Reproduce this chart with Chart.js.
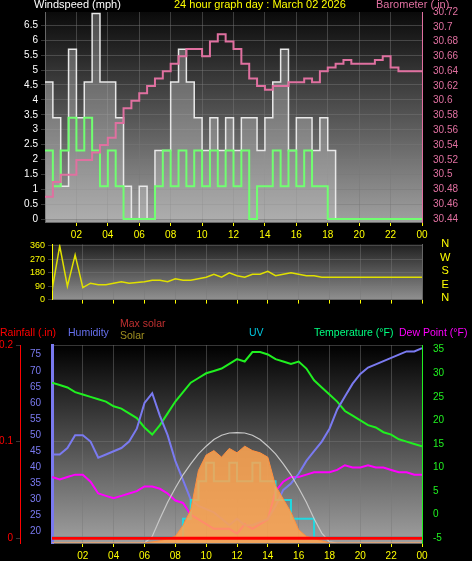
<!DOCTYPE html>
<html><head><meta charset="utf-8">
<script src="https://cdn.jsdelivr.net/npm/chart.js@4/dist/chart.umd.min.js"></script>
<style>
body{margin:0;background:#000;width:472px;height:561px;overflow:hidden;position:relative;font-family:"Liberation Sans",Arial,sans-serif}
.w{position:absolute;left:0;width:472px}
.t{position:absolute;font-size:11px;white-space:nowrap}
</style></head><body>
<div class="w" style="top:0;height:240px"><canvas id="c1" width="472" height="240"></canvas></div>
<div class="w" style="top:236px;height:72px"><canvas id="c2" width="472" height="72"></canvas></div>
<div class="w" style="top:333px;height:228px"><canvas id="c3" width="472" height="228"></canvas></div>
<div class="t" style="left:34px;top:-2px;color:#fff">Windspeed (mph)</div>
<div class="t" style="left:174px;top:-2px;color:#ff0">24 hour graph day : March 02 2026</div>
<div class="t" style="left:376px;top:-2px;color:#e070a0">Barometer (.in)</div>
<div class="t" style="left:440px;top:237px;color:#ff0;line-height:13.5px;text-align:center">N<br>W<br>S<br>E<br>N</div>
<div class="t" style="left:0px;top:326px;color:#f00;font-size:10.5px">Rainfall (.in)</div>
<div class="t" style="left:68px;top:326px;color:#6670ee;font-size:10.5px">Humidity</div>
<div class="t" style="left:120px;top:317px;color:#c03030;font-size:10.5px">Max solar</div>
<div class="t" style="left:120px;top:329px;color:#a09020;font-size:10.5px">Solar</div>
<div class="t" style="left:249px;top:326px;color:#00c8e0;font-size:10.5px">UV</div>
<div class="t" style="left:314px;top:326px;color:#00ff80;font-size:10.5px">Temperature (°F)</div>
<div class="t" style="left:399px;top:326px;color:#ff00ff;font-size:10.5px">Dew Point (°F)</div>
<script>
const hours=[0,0.5,1,1.5,2,2.5,3,3.5,4,4.5,5,5.5,6,6.5,7,7.5,8,8.5,9,9.5,10,10.5,11,11.5,12,12.5,13,13.5,14,14.5,15,15.5,16,16.5,17,17.5,18,18.5,19,19.5,20,20.5,21,21.5,22,22.5,23,23.5,24];
const hourTicks=['02','04','06','08','10','12','14','16','18','20','22','00'];
const windTicks=[0,0.5,1,1.5,2,2.5,3,3.5,4,4.5,5,5.5,6,6.5];
const windGust=[4.6,3.4,1.1,5.7,3.4,4.6,6.9,4.6,4.6,3.4,1.1,0,1.1,0,2.3,2.3,4.6,5.7,4.6,3.4,2.3,3.4,2.3,3.4,2.3,3.4,3.4,2.3,3.4,4.6,5.7,2.3,3.4,3.4,2.3,3.4,2.3,0,0,0,0,0,0,0,0,0,0,0,0];
const windAvg=[2.3,1.1,2.3,3.4,2.3,3.4,2.3,1.1,2.3,1.1,0,0,0,0,1.1,2.3,1.1,2.3,1.1,2.3,1.1,2.3,1.1,2.3,1.1,2.3,0,1.1,1.1,2.3,1.1,2.3,1.1,2.3,1.1,1.1,0,0,0,0,0,0,0,0,0,0,0,0,0];
const barometer=[30.47,30.49,30.5,30.5,30.52,30.52,30.53,30.54,30.55,30.57,30.59,30.6,30.61,30.62,30.63,30.64,30.65,30.66,30.67,30.67,30.66,30.68,30.69,30.68,30.67,30.65,30.63,30.62,30.615,30.62,30.62,30.625,30.625,30.63,30.625,30.64,30.645,30.65,30.655,30.65,30.65,30.65,30.655,30.66,30.645,30.64,30.64,30.64,30.64];
const windDir=[60,360,90,300,80,110,100,100,110,120,110,115,120,130,130,120,140,130,130,140,150,170,150,180,160,150,170,170,190,160,170,180,170,160,160,150,150,150,150,150,150,150,150,150,150,150,150,150,150];
const temperature=[28,27.5,27,26,25.5,25,24.5,24,23,22.5,21.5,20.5,18.5,17,19,21.5,24,26,28,29,30,30.5,31,32,33,32.5,34.5,34.5,34,33,32.5,32,32.5,31,28.5,27,25.5,24,22,21,20,19,18.5,17.5,17,16,15.5,15,14.5];
const humidity=[44,44,46,50,50,48,43,44,45,46,48,52,60,63,56,50,42,36,30,28,27,26,24,22,24,22,22,23,24,28,33,35,38,42,45,48,52,58,62,66,69,71,72,73,74,75,76,76,77];
const dewPoint=[8,7.5,8,8.5,8.5,7,4.5,4,3.5,4,4.5,5,6,6,5.5,4.5,3,2.5,0,-1,-2,-3,-3,-3,-4,-2,-3,-2,-1,5,7,8,8,8.5,9,9,9,9.5,10.5,10,10,10.5,10,10,9.5,9,9,8.5,8.5];
const maxSolar=[0,0,0,0,0,0,0,0,0,0,0,0,0,30,110,185,250,310,360,405,440,470,490,500,502,500,490,470,440,405,360,310,250,185,110,45,5,0,0,0,0,0,0,0,0,0,0,0,0];
const solar=[0,0,0,0,0,0,0,0,0,0,0,0,0,5,10,20,30,80,150,330,400,420,390,430,410,440,420,410,390,260,200,140,60,30,20,10,0,0,0,0,0,0,0,0,0,0,0,0,0];
const uv=[0,0,0,0,0,0,0,0,0,0,0,0,0,0,0,0,0,1,2,3,4,3,3,4,3,3,4,3,3,2,2,1,1,1,0,0,0,0,0,0,0,0,0,0,0,0,0,0,0];
const rainfall=hours.map(()=>0);
const humTicks=[20,25,30,35,40,45,50,55,60,65,70,75];

const pts=a=>hours.map((h,i)=>({x:h,y:a[i]}));
const bg={id:'bg',beforeDatasetsDraw(c,a,o){const {ctx,chartArea:ca}=c;const g=ctx.createLinearGradient(0,ca.top,0,ca.bottom);g.addColorStop(0,o.top);g.addColorStop(1,o.bot);ctx.save();ctx.fillStyle=g;ctx.globalCompositeOperation='destination-over';ctx.fillRect(ca.left,ca.top,ca.width,ca.height);ctx.restore();}};
Chart.register(bg);
const F={family:'"Liberation Sans",Arial',size:10};
const grid={color:'rgba(120,120,120,0.45)',tickLength:4,drawTicks:true};
const xAxis=(show)=>({type:'linear',min:0,max:24,afterBuildTicks:s=>{s.ticks=[];for(let h=2;h<=24;h+=2)s.ticks.push({value:h});},
 ticks:{display:show,color:'#ff0',font:F,callback:v=>hourTicks[v/2-1]},grid:{...grid,tickColor:'#ff0'},border:{color:'#666'},afterFit:s=>{s.height=show?18:4;}});
const common={responsive:false,maintainAspectRatio:false,devicePixelRatio:1,animation:false,plugins:{legend:{display:false},tooltip:{enabled:false}},elements:{point:{radius:0}}};

new Chart(document.getElementById('c1'),{type:'line',data:{datasets:[
 {data:pts(barometer),yAxisID:'yb',borderColor:'#e070a0',borderWidth:2,stepped:true},
 {data:pts(windAvg),yAxisID:'yw',borderColor:'#70ff70',borderWidth:2,stepped:true},
 {data:pts(windGust),yAxisID:'yw',borderColor:'#e8e8e8',borderWidth:1.5,stepped:true,fill:'origin',backgroundColor:'rgba(200,200,200,0.35)'}
]},options:{...common,layout:{padding:{top:12}},plugins:{...common.plugins,bg:{top:'#0a0a0a',bot:'#a0a0a0'}},
 scales:{x:xAxis(true),
 yw:{position:'left',min:-0.1,max:6.95,afterBuildTicks:s=>{s.ticks=windTicks.map(v=>({value:v}));},ticks:{color:'#fff',font:F,callback:v=>String(v)},grid:{...grid},border:{color:'#666'},afterFit:s=>{s.width=45;}},
 yb:{position:'right',min:30.436,max:30.72,afterBuildTicks:s=>{const t=[];for(let v=30.44;v<=30.7201;v+=0.02)t.push({value:+v.toFixed(2)});s.ticks=t;},ticks:{color:'#e070a0',font:F,callback:v=>String(+v.toFixed(2))},grid:{display:false},border:{color:'#e070a0'},afterFit:s=>{s.width=50;}}}}});

new Chart(document.getElementById('c2'),{type:'line',data:{datasets:[
 {data:pts(windDir),yAxisID:'yd',borderColor:'#e0e000',borderWidth:1.5}
]},options:{...common,layout:{padding:{top:8}},plugins:{...common.plugins,bg:{top:'#202020',bot:'#909090'}},
 scales:{x:xAxis(false),
 yd:{position:'left',min:0,max:370,afterBuildTicks:s=>{s.ticks=[0,90,180,270,360].map(v=>({value:v}));},ticks:{color:'#ff0',font:{...F,size:9}},grid:{...grid},border:{color:'#ff0'},afterFit:s=>{s.width=52;}},
 yr:{position:'right',min:0,max:370,ticks:{display:false},grid:{display:false},border:{color:'#666'},afterFit:s=>{s.width=50;}}}}});

new Chart(document.getElementById('c3'),{type:'line',data:{datasets:[
 {data:pts(rainfall),yAxisID:'yr',borderColor:'#ff0000',borderWidth:3},
 {data:pts(solar),yAxisID:'ys',borderColor:'#ff9040',borderWidth:1,fill:'origin',backgroundColor:'rgba(255,165,80,0.85)'},
 {data:pts(maxSolar),yAxisID:'ys',borderColor:'#c8c8c8',borderWidth:1.2},
 {data:pts(uv),yAxisID:'yu',borderColor:'#20d8e0',borderWidth:2,stepped:true},
 {data:pts(humidity),yAxisID:'yh',borderColor:'#7a7af0',borderWidth:2},
 {data:pts(dewPoint),yAxisID:'yt',borderColor:'#ff00ff',borderWidth:2},
 {data:pts(temperature),yAxisID:'yt',borderColor:'#20f020',borderWidth:2}
]},options:{...common,layout:{padding:{top:12}},plugins:{...common.plugins,bg:{top:'#000000',bot:'#a0a0a0'}},
 scales:{x:xAxis(true),
 yh:{position:'left',min:16.5,max:78,afterBuildTicks:s=>{s.ticks=humTicks.map(v=>({value:v}));},ticks:{color:'#7a7af0',font:F},grid:{display:false},border:{color:'#7a7af0',width:3},afterFit:s=>{s.width=32;}},
 yr:{position:'left',min:-0.005,max:0.2,afterBuildTicks:s=>{s.ticks=[0,0.1,0.2].map(v=>({value:v}));},ticks:{color:'#f00',font:F},grid:{...grid},border:{color:'#f00'},afterFit:s=>{s.width=20;}},
 yt:{position:'right',min:-6,max:36,afterBuildTicks:s=>{s.ticks=[-5,0,5,10,15,20,25,30,35].map(v=>({value:v}));},ticks:{color:'#20f020',font:F},grid:{display:false},border:{color:'#20f020'},afterFit:s=>{s.width=50;}},
 ys:{display:false,min:0,max:900},
 yu:{display:false,min:-0.3,max:10.3}}}});
</script></body></html>
